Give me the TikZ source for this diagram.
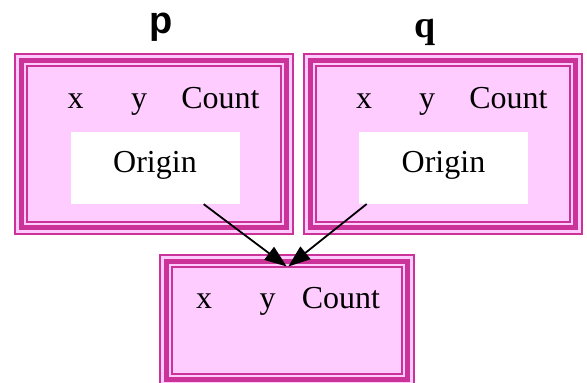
\documentclass[tikz,border=0pt]{standalone}
\usepackage{fontspec}
\setmainfont{Liberation Serif}
\newfontfamily\lsans{Liberation Sans}
\usetikzlibrary{arrows.meta}
\definecolor{mag}{RGB}{204,51,153}
\definecolor{pinkfill}{RGB}{255,204,255}
\tikzset{
  panel/.style={rectangle, fill=pinkfill, draw=none, inner sep=0pt},
  cell/.style={rectangle, fill=white, draw=none, inner sep=0pt, minimum width=169pt, minimum height=72pt},
  txt/.style={anchor=base, inner sep=0pt, font=\fontsize{32}{36}\selectfont},
  lblp/.style={anchor=base, inner sep=0pt, font=\lsans\bfseries\fontsize{38}{40}\selectfont},
  lblq/.style={anchor=base, inner sep=0pt, font=\bfseries\fontsize{38}{40}\selectfont},
  thinb/.style={draw=mag, line width=2.5pt},
  thickb/.style={draw=mag, line width=5pt},
  edge/.style={draw=black, line width=1.8pt, -{Triangle[length=22pt,width=16pt]}}
}
\newcommand\tripleframe[1]{%
  \draw[thinb] ([shift={(1.25,1.25)}]#1.north west) rectangle ([shift={(-1.25,-1.25)}]#1.south east);
  \draw[thickb] ([shift={(7.5,7.5)}]#1.north west) rectangle ([shift={(-7.5,-7.5)}]#1.south east);
  \draw[thinb] ([shift={(13,13)}]#1.north west) rectangle ([shift={(-13,-13)}]#1.south east);
}
\begin{document}
\begin{tikzpicture}[x=1pt, y=-1pt]
\useasboundingbox (0,0) rectangle (587,383);
% panels
\node[panel, minimum width=280pt, minimum height=182pt] (p) at (154,144) {};
\node[panel, minimum width=280pt, minimum height=182pt] (q) at (443,144) {};
\node[panel, minimum width=256pt, minimum height=133pt] (r) at (287,320.5) {};
\tripleframe{p}
\tripleframe{q}
\tripleframe{r}
% labels
\node[lblp] (plab) at (161,33) {p};
\node[lblq] (qlab) at (425,37) {q};
% p contents
\node[txt] (px) at (75.5,108) {x};
\node[txt] (py) at (139,108) {y};
\node[txt] (pc) at (220.5,108) {Count};
\node[cell] (po) at (155.5,168) {};
\node[txt] (pot) at (155,172) {Origin};
% q contents
\node[txt] (qx) at (364,108) {x};
\node[txt] (qy) at (427,108) {y};
\node[txt] (qc) at (508.5,108) {Count};
\node[cell] (qo) at (443.5,168) {};
\node[txt] (qot) at (443.5,172) {Origin};
% r contents
\node[txt] (rx) at (204,308) {x};
\node[txt] (ry) at (267.5,308) {y};
\node[txt] (rc) at (341,308) {Count};
% edges
\coordinate (qs) at (366.7,204);
\coordinate (ta) at (286.7,266.5);
\coordinate (tb) at (288.3,266.5);
\draw[edge] (po) -- (ta);
\draw[edge] (qs) -- (tb);
\end{tikzpicture}
\end{document}
